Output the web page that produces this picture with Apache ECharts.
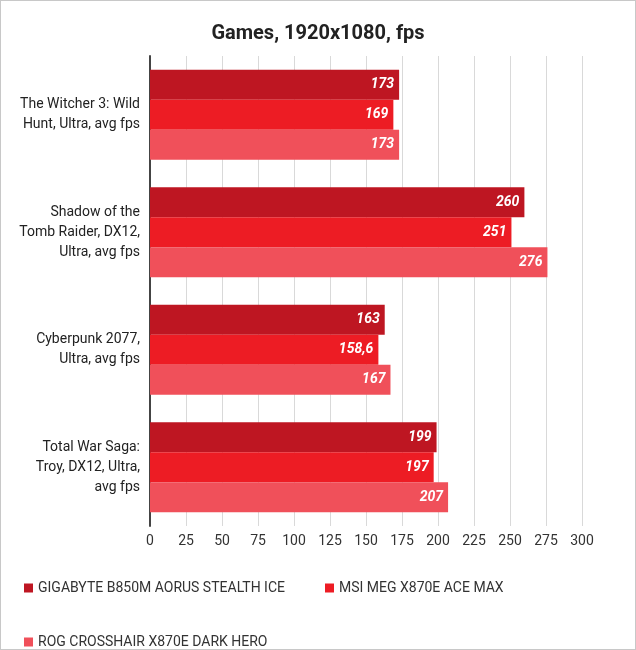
<!DOCTYPE html>
<html>
<head>
<meta charset="utf-8">
<script src="https://cdn.jsdelivr.net/npm/echarts@6/dist/echarts.min.js"></script>
<style>
    html, body { margin: 0; padding: 0; background: #fff; }
    #chart { width: 634px; height: 648px; border: 1px solid #c8c8c8; }
</style>
</head>
<body>
<div id="chart"></div>
<script>
'use strict';

const categories = [
    'The Witcher 3: Wild\nHunt, Ultra, avg fps',
    'Shadow of the\nTomb Raider, DX12,\nUltra, avg fps',
    'Cyberpunk 2077,\nUltra, avg fps',
    'Total War Saga:\nTroy, DX12, Ultra,\navg fps'
];
const seriesNames = [
    'GIGABYTE B850M AORUS STEALTH ICE',
    'MSI MEG X870E ACE MAX',
    'ROG CROSSHAIR X870E DARK HERO'
];
const gigabyteVals = [173, 260, 163, 199];
const msiVals = [169, 251, 158.6, 197];
const rogVals = [173, 276, 167, 207];
const colors = ['#be1622', '#ed1c24', '#f0505a'];

const chart = echarts.init(document.getElementById('chart'));

function makeSeries(name, data, color) {
    return {
        name: name,
        type: 'bar',
        data: data,
        barWidth: 30,
        barGap: '0%',
        barCategoryGap: '15%',
        itemStyle: { color: color },
        label: {
            show: true,
            position: 'insideRight',
            color: '#fff',
            fontStyle: 'italic',
            fontWeight: 'bold',
            fontSize: 14,
            fontFamily: 'Roboto',
            formatter: p => String(p.value).replace('.', ',')
        }
    };
}

chart.setOption({
    animation: false,
    textStyle: { fontFamily: 'Roboto' },
    title: {
        text: 'Games, 1920x1080, fps',
        left: 'center',
        top: 18,
        textStyle: { fontSize: 20, fontWeight: 'bold', color: '#222', fontFamily: 'Roboto' }
    },
    legend: {
        left: 18,
        top: 575,
        width: 560,
        itemWidth: 9,
        itemHeight: 9,
        itemGap: 40,
        icon: 'rect',
        textStyle: { fontSize: 14, color: '#333' },
        data: seriesNames
    },
    grid: { left: 149, right: 53, top: 55, bottom: 123 },
    xAxis: {
        type: 'value',
        min: 0,
        max: 300,
        interval: 25,
        axisLabel: { fontSize: 14, color: '#333' },
        splitLine: { lineStyle: { color: '#d9d9d9' } }
    },
    yAxis: {
        type: 'category',
        inverse: true,
        data: categories,
        axisLine: { lineStyle: { color: '#444', width: 2 } },
        axisTick: { length: 5, lineStyle: { color: '#444', width: 2 } },
        axisLabel: { fontSize: 14, color: '#222', lineHeight: 20, margin: 10 }
    },
    series: [
        makeSeries(seriesNames[0], gigabyteVals, colors[0]),
        makeSeries(seriesNames[1], msiVals, colors[1]),
        makeSeries(seriesNames[2], rogVals, colors[2])
    ]
});
</script>
</body>
</html>
